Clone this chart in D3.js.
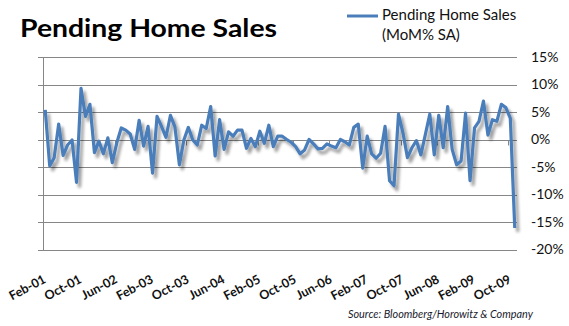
<!DOCTYPE html>
<html>
<head>
<meta charset="utf-8">
<script src="https://cdn.jsdelivr.net/npm/d3@7"></script>
<style>
  html, body { margin: 0; padding: 0; background: #fff; }
  svg { display: block; }
  text { font-family: Lato, "Open Sans", "DejaVu Sans", sans-serif; }
</style>
</head>
<body>
<div id="chart"></div>
<script>
// Pending home sales, month-over-month % change (seasonally adjusted), Feb-01 .. Nov-09
const firstMonth = new Date(2001, 1, 1);
const momChange = [
   5.4, -4.8, -3.3,  2.8, -2.9, -1.0, -0.1, -7.8,  9.3,  4.2,  6.4,
  -2.4, -0.3, -2.6,  0.3, -4.2, -0.6,  2.1,  1.7,  1.0, -1.8,  3.5, -1.2,
   2.4, -6.1,  4.2,  2.4,  0.4,  4.4,  2.3, -4.6, -0.1,  2.2, -0.1, -1.0,
   2.6,  2.0,  6.0, -3.0,  3.6, -1.8,  1.4,  0.6,  1.7,  1.7, -1.6,  0.2,
  -1.3,  1.5, -0.7,  2.6, -1.3,  0.6,  0.6,  0.0, -0.5, -1.3, -2.6, -1.9,
   0.0, -0.8, -1.7, -1.6, -0.8, -1.2, -1.5,  0.0, -0.4, -1.0,  2.2,  2.8,
  -5.2,  0.6, -2.6, -3.4, -2.5,  2.4, -7.5, -8.4,  4.6,  1.2, -3.3, -1.5,
  -0.2, -2.8,  0.9,  4.6, -2.8,  4.4, -1.5,  6.0, -1.8, -4.6, -3.9,  4.8,
  -7.5,  2.1,  3.3,  7.0,  0.8,  3.6,  3.3,  6.4,  5.8,  3.9, -16.1
];
const valueTicks = [-20, -15, -10, -5, 0, 5, 10, 15];
const labelEvery = 8;
const seriesName = ["Pending Home Sales", "(MoM% SA)"];
const chartTitle = "Pending Home Sales";
const sourceNote = "Source: Bloomberg/Horowitz & Company";

const months = momChange.map((_, i) => d3.timeMonth.offset(firstMonth, i));
const fmtMonth = d3.timeFormat("%b-%y");
const categories = months.map(fmtMonth);
const data = categories.map((c, i) => ({ c, v: momChange[i] }));

const W = 569, H = 326;
const plot = { left: 43, right: 517, top: 57, bottom: 249.5 };

const svg = d3.select("#chart").append("svg")
  .attr("width", W).attr("height", H);

const defs = svg.append("defs");
const shadow = defs.append("filter").attr("id", "lineShadow")
  .attr("x", "-5%").attr("y", "-10%").attr("width", "115%").attr("height", "130%");
shadow.append("feGaussianBlur").attr("in", "SourceAlpha").attr("stdDeviation", 1.6).attr("result", "blur");
shadow.append("feOffset").attr("in", "blur").attr("dx", 3).attr("dy", 3.5).attr("result", "off");
shadow.append("feComponentTransfer").attr("in", "off").attr("result", "soft")
  .append("feFuncA").attr("type", "linear").attr("slope", 0.38);
const merge = shadow.append("feMerge");
merge.append("feMergeNode").attr("in", "soft");
merge.append("feMergeNode").attr("in", "SourceGraphic");

const x = d3.scaleBand().domain(categories).range([plot.left, plot.right]).padding(0);
const y = d3.scaleLinear().domain([-20, 15]).range([plot.bottom, plot.top]);
const cx = c => x(c) + x.bandwidth() / 2;

const gridColor = "#868686";

// horizontal gridlines with short outside ticks on the left axis
svg.append("g").selectAll("line").data(valueTicks).join("line")
  .attr("x1", plot.left - 5).attr("x2", plot.right)
  .attr("y1", d => Math.round(y(d)) + 0.5).attr("y2", d => Math.round(y(d)) + 0.5)
  .attr("stroke", gridColor).attr("stroke-width", 1);

// left value axis line
svg.append("line")
  .attr("x1", plot.left + 0.5).attr("x2", plot.left + 0.5)
  .attr("y1", Math.round(y(15)) + 0.5).attr("y2", Math.round(y(-20)) + 0.5)
  .attr("stroke", gridColor);

// category tick marks hanging from the zero line
const tickIdx = d3.range(labelEvery, categories.length, labelEvery);
svg.append("g").selectAll("line").data(tickIdx).join("line")
  .attr("x1", i => Math.round(x(categories[i])) + 0.5)
  .attr("x2", i => Math.round(x(categories[i])) + 0.5)
  .attr("y1", Math.round(y(0)) + 0.5).attr("y2", Math.round(y(0)) + 5.5)
  .attr("stroke", gridColor);

// right-hand value labels
const yAxis = d3.axisRight(y).tickValues(valueTicks).tickFormat(d => d + "%").tickSize(0).tickPadding(0);
const gy = svg.append("g").attr("transform", `translate(531,0)`).call(yAxis);
gy.select(".domain").remove();
gy.selectAll("text").attr("font-size", 14).attr("fill", "#111")
  .attr("font-family", "Lato, 'Open Sans', sans-serif");

// rotated month labels
const labelIdx = d3.range(0, categories.length, labelEvery);
svg.append("g").selectAll("text").data(labelIdx).join("text")
  .attr("transform", i => `translate(${cx(categories[i]) + 1.5},282) rotate(-28)`)
  .attr("text-anchor", "end")
  .attr("font-size", 12.5).attr("font-weight", "bold").attr("fill", "#111")
  .text(i => categories[i]);

// the series
const line = d3.line().x(d => cx(d.c)).y(d => y(d.v)).curve(d3.curveLinear);
svg.append("path").datum(data)
  .attr("d", line)
  .attr("fill", "none")
  .attr("stroke", "#4a7ebb")
  .attr("stroke-width", 3.2)
  .attr("stroke-linejoin", "round")
  .attr("filter", "url(#lineShadow)");

// title
svg.append("text").attr("x", 20).attr("y", 37)
  .attr("font-size", 24).attr("font-weight", "bold").attr("fill", "#000")
  .attr("textLength", 257).attr("lengthAdjust", "spacingAndGlyphs")
  .text(chartTitle);

// legend
svg.append("line").attr("x1", 347).attr("x2", 378).attr("y1", 16).attr("y2", 16)
  .attr("stroke", "#4a7ebb").attr("stroke-width", 3);
svg.append("text").attr("x", 382).attr("y", 20)
  .attr("font-size", 15).attr("fill", "#111")
  .text(seriesName[0]);
svg.append("text").attr("x", 382).attr("y", 40)
  .attr("font-size", 15).attr("fill", "#111")
  .text(seriesName[1]);

// source note, sized so it spans the same width as the plot's right block
const src = svg.append("text").attr("x", 348).attr("y", 318)
  .attr("font-size", 13).attr("font-style", "italic").attr("fill", "#1a1a2e")
  .text(sourceNote);
const srcW = src.node().getComputedTextLength();
if (srcW > 185) src.attr("font-size", (13 * 185 / srcW).toFixed(2));
</script>
</body>
</html>
